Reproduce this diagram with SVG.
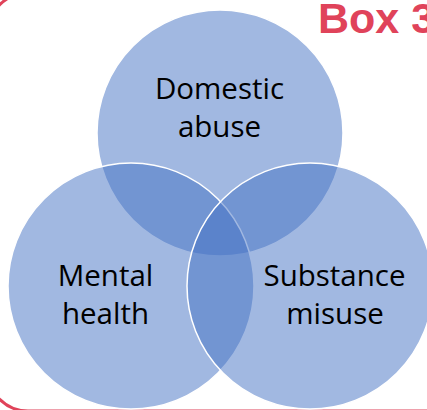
<svg xmlns="http://www.w3.org/2000/svg" width="427" height="410" viewBox="0 0 427 410">
<style>
.c{fill:#4472C4;fill-opacity:0.5;stroke:#FFFFFF;stroke-width:1.5}
.t{font-family:"Open Sans","Noto Sans","Liberation Sans",sans-serif;font-size:29.5px;fill:#000000;text-anchor:middle}
</style>
<rect x="0" y="0" width="427" height="410" fill="#FFFFFF"/>
<rect id="box-border" x="-12" y="-7" width="520" height="418" rx="40" ry="40" fill="none" stroke="#E0435A" stroke-width="3"/>
<text id="box-title" x="318" y="33" font-family="'Liberation Sans',Arial,sans-serif" font-weight="bold" font-size="43" fill="#E0435A">Box 3</text>
<g id="domestic-abuse">
<circle class="c" cx="220" cy="133" r="123"/>
<text class="t" x="219.5" y="99">Domestic</text>
<text class="t" x="219.5" y="137">abuse</text>
</g>
<g id="mental-health">
<circle class="c" cx="131" cy="286" r="123"/>
<text class="t" x="105.5" y="286">Mental</text>
<text class="t" x="105.5" y="324">health</text>
</g>
<g id="substance-misuse">
<circle class="c" cx="310" cy="286" r="123"/>
<text class="t" x="334.5" y="286">Substance</text>
<text class="t" x="335" y="324">misuse</text>
</g>
<g id="connectors"></g>
</svg>
